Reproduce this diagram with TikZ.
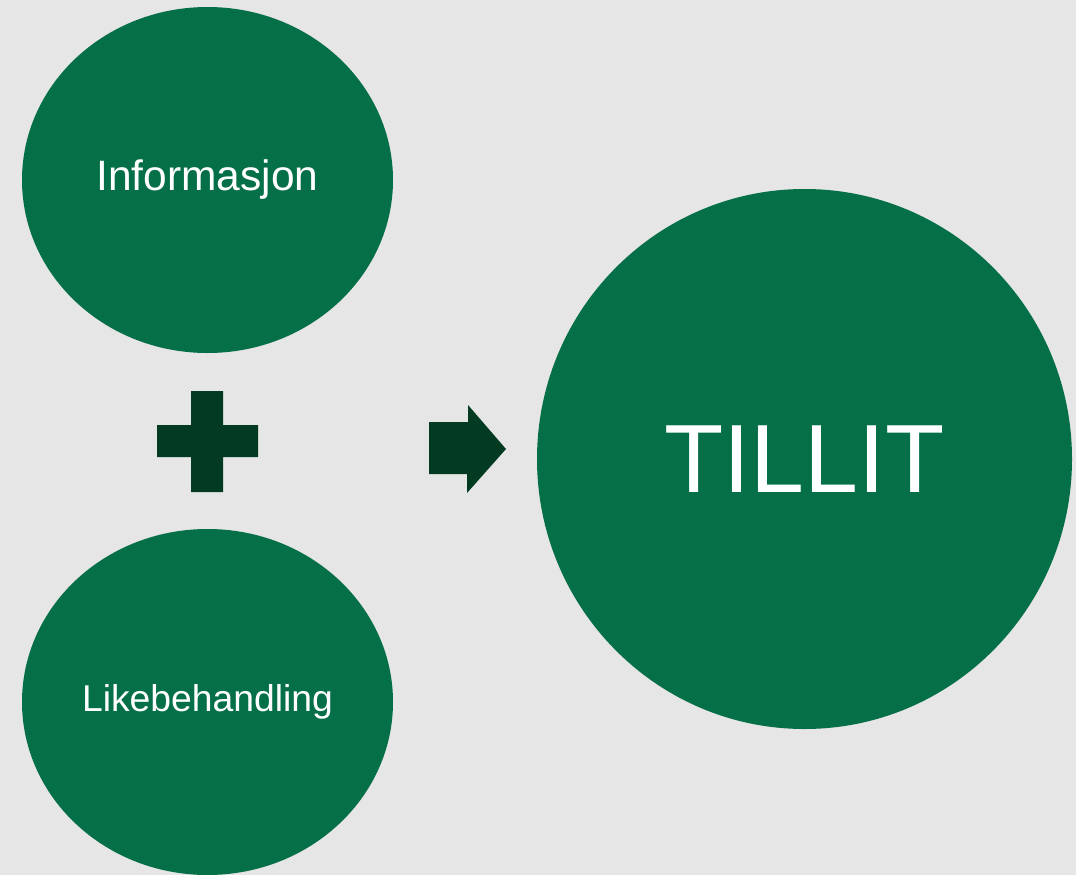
\documentclass[tikz,border=0pt]{standalone}
\usepackage{fontspec}
\setmainfont{Liberation Sans}
\usetikzlibrary{shapes.geometric}
\definecolor{bg}{HTML}{E6E6E6}
\definecolor{leaf}{HTML}{056F48}
\definecolor{deep}{HTML}{033A22}
\tikzset{
  bubble/.style={ellipse, fill=leaf, draw=none, inner sep=0pt, text=white},
  mark shape/.style={fill=deep, draw=none}
}
\begin{document}
\begin{tikzpicture}[x=1pt,y=-1pt]
\fill[bg] (0,0) rectangle (1076,875);
\useasboundingbox (0,0) rectangle (1076,875);
\node[bubble, minimum width=371pt, minimum height=346pt, font=\fontsize{42.5}{50}\selectfont] (info) at (207.5,180) {Informasjon};
\node[bubble, minimum width=371pt, minimum height=346pt, font=\fontsize{37.3}{44}\selectfont] (like) at (207.5,702) {Likebehandling};
\node[bubble, minimum width=535pt, minimum height=540pt, font=\fontsize{97}{110}\selectfont] (tillit) at (804.5,459) {TILLIT};
% plus sign
\fill[mark shape] (191,391) -- (223,391) -- (223,425) -- (258,425) -- (258,457) -- (223,457) -- (223,492) -- (191,492) -- (191,457) -- (157,457) -- (157,425) -- (191,425) -- cycle;
% arrow
\fill[mark shape] (429,422) -- (468,422) -- (468,405) -- (506,449) -- (467,493) -- (467,474) -- (429,474) -- cycle;
\end{tikzpicture}
\end{document}
